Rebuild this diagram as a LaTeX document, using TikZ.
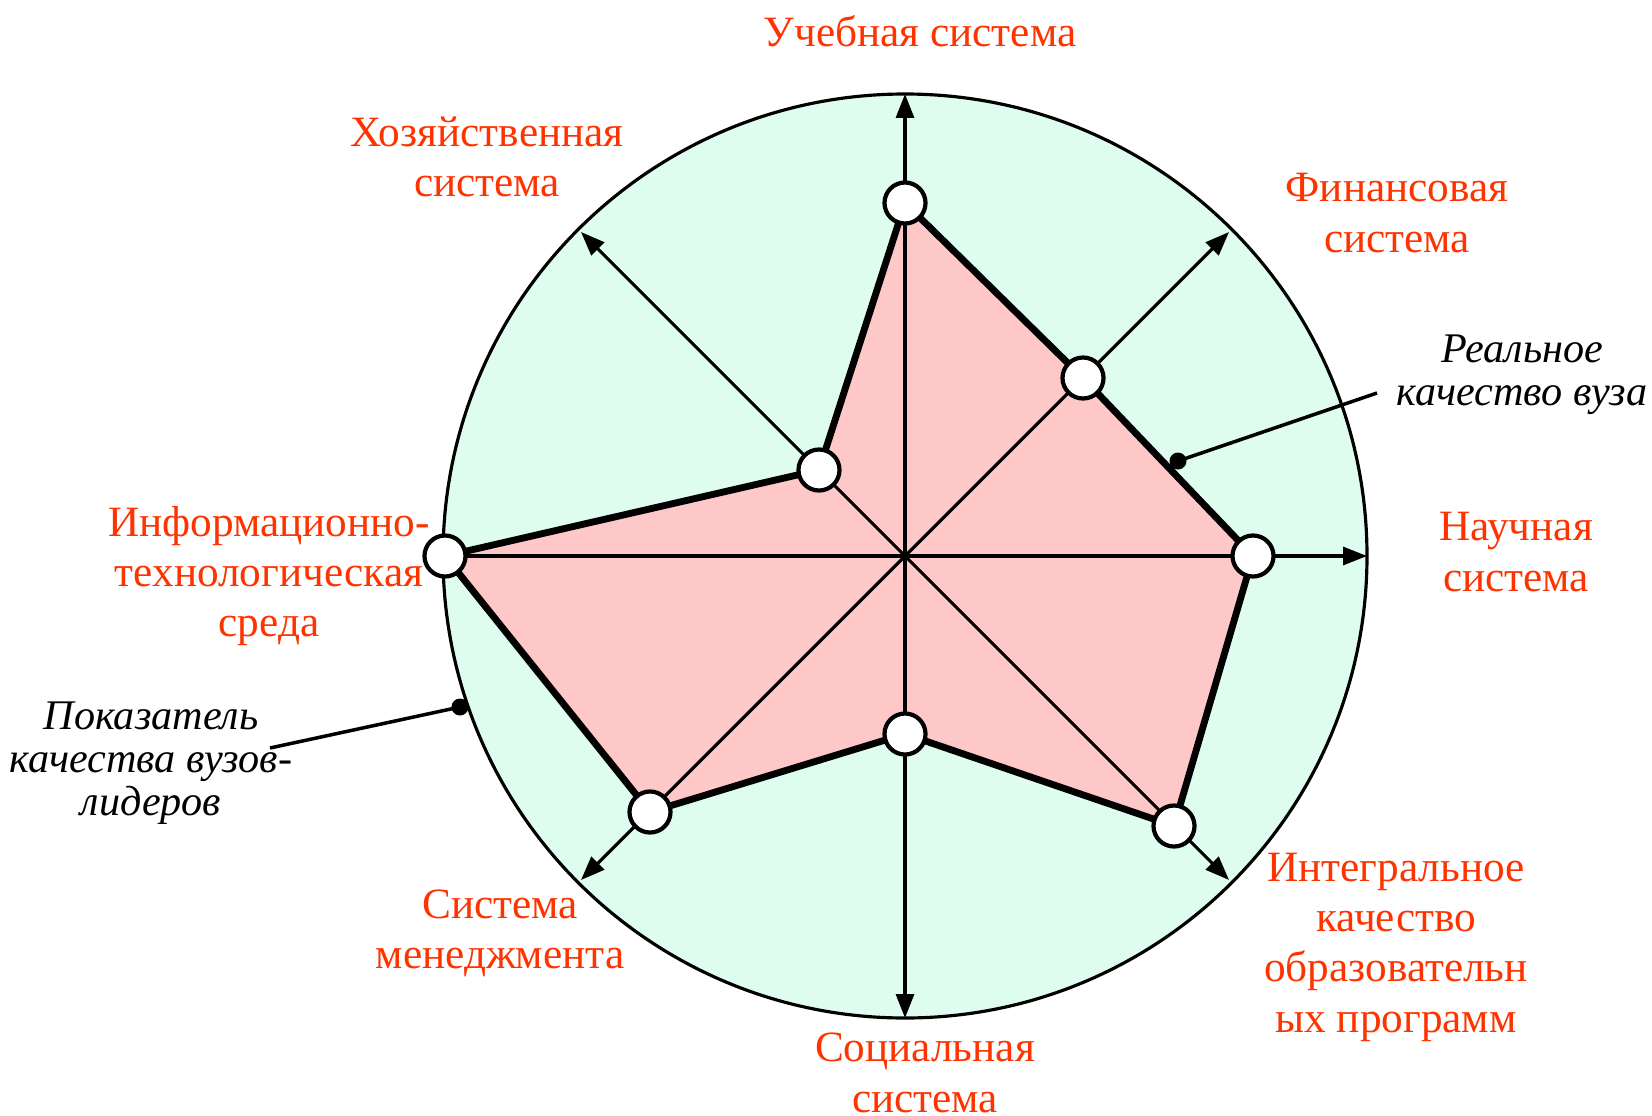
\documentclass[tikz,border=0pt]{standalone}
\usepackage{fontspec}
\setmainfont{Liberation Serif}
\usetikzlibrary{arrows.meta}
\definecolor{labelred}{RGB}{255,51,0}
\definecolor{discgreen}{RGB}{223,253,239}
\definecolor{areapink}{RGB}{255,200,200}
\begin{document}
\begin{tikzpicture}[x=0.01cm,y=-0.01cm,
  axisline/.style={line width=0.9pt},
  tipend/.style={-{Triangle[length=6.8pt,width=5.1pt]}},
  tipboth/.style={{Triangle[length=6.8pt,width=5.1pt]}-{Triangle[length=6.8pt,width=5.1pt]}},
  profile/.style={line width=1.95pt, line join=round},
  marker/.style={circle, draw, fill=white, line width=1.2pt, minimum size=0.41cm, inner sep=0pt},
  leaderdot/.style={circle, fill=black, minimum size=0.17cm, inner sep=0pt},
  leader/.style={line width=1pt},
  syslabel/.style={text=labelred, align=center, font=\fontsize{12.3}{14.3}\selectfont},
  notelabel/.style={align=center, font=\itshape\fontsize{12}{12.2}\selectfont},
]
\useasboundingbox (0,0) rectangle (1652,1115);

% background disc
\coordinate (c) at (905,556);
\fill[discgreen] (c) circle[radius=462];

% axis end points on the rim
\coordinate (aT) at (905,94);
\coordinate (aB) at (905,1018);
\coordinate (aR) at (1367,556);
\coordinate (aL) at (443,556);
\coordinate (aNE) at (1229,232);
\coordinate (aSW) at (581,880);
\coordinate (aNW) at (581,232);
\coordinate (aSE) at (1229,880);

% profile values on each axis
\coordinate (pT) at (905,203);
\coordinate (pNE) at (1083,378);
\coordinate (pE) at (1253,556);
\coordinate (pSE) at (1174,826);
\coordinate (pS) at (905,734);
\coordinate (pSW) at (650,812);
\coordinate (pW) at (445,556);
\coordinate (pNW) at (819,470);

% filled profile
\fill[areapink] (pT) -- (pNE) -- (pE) -- (pSE) -- (pS) -- (pSW) -- (pW) -- (pNW) -- cycle;

% axes
\draw[axisline, tipboth] (aB) -- (aT);
\draw[axisline, tipend] (aL) -- (aR);
\draw[axisline, tipboth] (aSW) -- (aNE);
\draw[axisline, tipboth] (aSE) -- (aNW);

% profile outline
\draw[profile] (pT) -- (pNE) -- (pE) -- (pSE) -- (pS) -- (pSW) -- (pW) -- (pNW) -- cycle;

% rim
\draw[line width=0.9pt] (c) circle[radius=462];

% value markers
\node[marker] (mT) at (pT) {};
\node[marker] (mNE) at (pNE) {};
\node[marker] (mE) at (pE) {};
\node[marker] (mSE) at (pSE) {};
\node[marker] (mS) at (pS) {};
\node[marker] (mSW) at (pSW) {};
\node[marker] (mW) at (pW) {};
\node[marker] (mNW) at (pNW) {};

% leaders
\node[leaderdot] (dReal) at (1178,461) {};
\coordinate (eReal) at (1377,393);
\draw[leader] (dReal.center) -- (eReal);
\node[leaderdot] (dLead) at (460,707) {};
\coordinate (eLead) at (270,748);
\draw[leader] (dLead.center) -- (eLead);

% axis labels
\node[syslabel] (lT) at (920,31) {Учебная система};
\node[syslabel] (lNW) at (487,157) {Хозяйственная\\система};
\node[syslabel] (lNE) at (1397,213) {Финансовая\\система};
\node[syslabel] (lE) at (1516,552) {Научная\\система};
\node[syslabel] (lSE) at (1396,947) {Интегральное\\качество\\образовательн\\ых программ};
\node[syslabel] (lS) at (925,1073) {Социальная\\система};
\node[syslabel] (lSW) at (500,933) {Система\\менеджмента};
\node[syslabel] (lW) at (269,576) {Информационно-\\технологическая\\среда};

% notes
\node[notelabel] (nReal) at (1522,375) {Реальное\\качество вуза};
\node[notelabel] (nLead) at (151,763) {Показатель\\качества вузов-\\лидеров};
\end{tikzpicture}
\end{document}
